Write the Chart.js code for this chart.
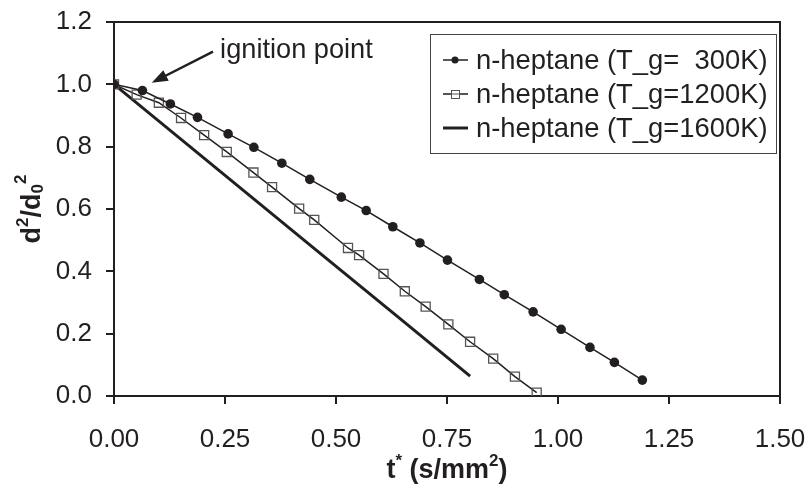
<!DOCTYPE html>
<html>
<head>
<meta charset="utf-8">
<script src="https://cdn.jsdelivr.net/npm/chart.js@4.4.0/dist/chart.umd.min.js"></script>
<style>
  html, body { margin: 0; padding: 0; background: #fff; }
  #wrap { width: 809px; height: 484px; }
</style>
</head>
<body>
<div id="wrap"><canvas id="dropChart" width="809" height="484"></canvas></div>
<script>
// t* (s/mm^2) and d^2/d0^2
const t300 = [0, 0.064, 0.127, 0.188, 0.257, 0.315, 0.378, 0.441, 0.512, 0.568, 0.628, 0.689, 0.751, 0.823, 0.879, 0.944, 1.007, 1.072, 1.127, 1.190];
const d300 = [1.0, 0.980, 0.937, 0.894, 0.841, 0.798, 0.747, 0.695, 0.638, 0.595, 0.543, 0.491, 0.436, 0.374, 0.325, 0.270, 0.214, 0.156, 0.108, 0.051];

const t1200 = [0, 0.051, 0.101, 0.151, 0.203, 0.254, 0.314, 0.356, 0.417, 0.451, 0.527, 0.552, 0.607, 0.655, 0.702, 0.753, 0.802, 0.854, 0.903, 0.952];
const d1200 = [1.0, 0.967, 0.941, 0.892, 0.837, 0.783, 0.717, 0.670, 0.601, 0.565, 0.475, 0.452, 0.392, 0.336, 0.287, 0.230, 0.174, 0.120, 0.062, 0.011];

const t1600 = [0, 0.452, 0.636, 0.802];
const d1600 = [1.0, 0.472, 0.258, 0.064];

const seriesLabels = ['n-heptane (T_g=  300K)', 'n-heptane (T_g=1200K)', 'n-heptane (T_g=1600K)'];
const xTicks = [0, 0.25, 0.5, 0.75, 1.0, 1.25, 1.5];
const yTicks = [0, 0.2, 0.4, 0.6, 0.8, 1.0, 1.2];

const INK = '#231f20';
const FONT = '"Liberation Sans", Arial, sans-serif';

function pts(xs, ys) {
  return xs.map((x, i) => ({ x: x, y: ys[i] }));
}

// frame, legend box, annotation and axis titles with super/subscripts
const extras = {
  id: 'extras',
  afterDraw(chart) {
    const ctx = chart.ctx;
    const a = chart.chartArea;
    const xs = chart.scales.x, ys = chart.scales.y;
    ctx.save();

    // top and right frame lines
    ctx.strokeStyle = INK;
    ctx.lineWidth = 2;
    ctx.beginPath();
    ctx.moveTo(a.left, a.top);
    ctx.lineTo(a.right, a.top);
    ctx.lineTo(a.right, a.bottom);
    ctx.stroke();

    // legend
    const bw = 346, bh = 119;
    const bx = a.right - 4 - bw, by = a.top + 12;
    ctx.lineWidth = 1;
    ctx.strokeStyle = '#444';
    ctx.strokeRect(bx + 0.5, by + 0.5, bw, bh);
    ctx.font = '27.4px ' + FONT;
    ctx.textBaseline = 'middle';
    ctx.fillStyle = INK;
    const rows = [by + 26, by + 60, by + 94];
    chart.data.datasets.forEach((ds, i) => {
      const y = rows[i];
      ctx.strokeStyle = INK;
      ctx.lineWidth = i === 2 ? 3 : 1.5;
      ctx.beginPath();
      ctx.moveTo(bx + 13, y);
      ctx.lineTo(bx + 38, y);
      ctx.stroke();
      if (i === 0) {
        ctx.beginPath();
        ctx.arc(bx + 25, y, 3.5, 0, Math.PI * 2);
        ctx.fill();
      } else if (i === 1) {
        ctx.fillStyle = '#fff';
        ctx.fillRect(bx + 21, y - 4, 8, 8);
        ctx.strokeStyle = '#555';
        ctx.lineWidth = 1;
        ctx.strokeRect(bx + 21.5, y - 3.5, 8, 8);
        ctx.beginPath();
        ctx.moveTo(bx + 13, y);
        ctx.lineTo(bx + 38, y);
        ctx.stroke();
      }
      ctx.fillStyle = INK;
      ctx.textAlign = 'left';
      ctx.fillText(ds.label, bx + 46, y + 1);
    });

    // "ignition point" arrow
    const tipX = xs.getPixelForValue(0.085), tipY = ys.getPixelForValue(1.005);
    const sX = xs.getPixelForValue(0.223), sY = ys.getPixelForValue(1.105);
    const ang = Math.atan2(tipY - sY, tipX - sX);
    ctx.strokeStyle = INK;
    ctx.fillStyle = INK;
    ctx.lineWidth = 2.5;
    ctx.beginPath();
    ctx.moveTo(sX, sY);
    ctx.lineTo(tipX - 10 * Math.cos(ang), tipY - 10 * Math.sin(ang));
    ctx.stroke();
    ctx.beginPath();
    ctx.moveTo(tipX, tipY);
    ctx.lineTo(tipX - 16 * Math.cos(ang) + 6 * Math.sin(ang), tipY - 16 * Math.sin(ang) - 6 * Math.cos(ang));
    ctx.lineTo(tipX - 16 * Math.cos(ang) - 6 * Math.sin(ang), tipY - 16 * Math.sin(ang) + 6 * Math.cos(ang));
    ctx.closePath();
    ctx.fill();
    ctx.font = '27.2px ' + FONT;
    ctx.textAlign = 'left';
    ctx.textBaseline = 'middle';
    ctx.fillText('ignition point', xs.getPixelForValue(0.239), ys.getPixelForValue(1.107));

    // x title: t* (s/mm2)
    const big = 'bold 27px ' + FONT, small = 'bold 17px ' + FONT;
    const xParts = [['t', big, 0], ['*', small, -10], [' (s/mm', big, 0], ['2', small, -10], [')', big, 0]];
    drawParts(ctx, xParts, (a.left + a.right) / 2, 471, 0);

    // y title: d2/d0 2
    const yParts = [['d', big, 0], ['2', small, -10], ['/d', big, 0], ['0', small, 5], ['2', small, -12]];
    drawParts(ctx, yParts, 33, (a.top + a.bottom) / 2, -Math.PI / 2);

    ctx.restore();
  }
};

function drawParts(ctx, parts, cx, cy, rot) {
  let w = 0;
  parts.forEach(p => { ctx.font = p[1]; w += ctx.measureText(p[0]).width; });
  ctx.save();
  ctx.translate(cx, cy);
  ctx.rotate(rot);
  ctx.fillStyle = INK;
  ctx.textAlign = 'left';
  ctx.textBaseline = 'middle';
  let x = -w / 2;
  parts.forEach(p => {
    ctx.font = p[1];
    ctx.fillText(p[0], x, p[2]);
    x += ctx.measureText(p[0]).width;
  });
  ctx.restore();
}

new Chart(document.getElementById('dropChart'), {
  type: 'scatter',
  data: {
    datasets: [
      {
        label: seriesLabels[0],
        data: pts(t300, d300),
        showLine: true,
        borderColor: INK,
        borderWidth: 1.5,
        backgroundColor: INK,
        pointStyle: 'circle',
        pointRadius: 4.8,
        pointBorderWidth: 0
      },
      {
        label: seriesLabels[1],
        data: pts(t1200, d1200),
        showLine: true,
        borderColor: INK,
        borderWidth: 1.5,
        pointStyle: 'rect',
        pointRadius: 6.4,
        pointBackgroundColor: 'rgba(255,255,255,0)',
        pointBorderColor: '#555',
        pointBorderWidth: 1.3
      },
      {
        label: seriesLabels[2],
        data: pts(t1600, d1600),
        showLine: true,
        borderColor: INK,
        borderWidth: 3,
        pointRadius: 0
      }
    ]
  },
  options: {
    responsive: false,
    animation: false,
    layout: { padding: { left: 0, top: 22, right: 29, bottom: 0 } },
    plugins: {
      legend: { display: false },
      tooltip: { enabled: false }
    },
    scales: {
      x: {
        type: 'linear',
        min: 0,
        max: 1.5,
        afterBuildTicks: s => { s.ticks = xTicks.map(v => ({ value: v })); },
        afterFit: s => { s.height = 88; s.paddingLeft = 0; s.paddingRight = 0; },
        border: { color: INK, width: 2 },
        grid: { drawOnChartArea: false, drawTicks: true, tickLength: 8, color: INK, lineWidth: 2 },
        ticks: {
          color: INK,
          padding: 20,
          font: { family: FONT, size: 26 },
          callback: v => v.toFixed(2)
        }
      },
      y: {
        min: 0,
        max: 1.2,
        afterBuildTicks: s => { s.ticks = yTicks.map(v => ({ value: v })); },
        afterFit: s => { s.width = 114; s.paddingTop = 0; s.paddingBottom = 0; },
        border: { color: INK, width: 2 },
        grid: { drawOnChartArea: false, drawTicks: true, tickLength: 8, color: INK, lineWidth: 2 },
        ticks: {
          color: INK,
          padding: 14,
          font: { family: FONT, size: 26 },
          callback: v => v.toFixed(1)
        }
      }
    }
  },
  plugins: [extras]
});
</script>
</body>
</html>
